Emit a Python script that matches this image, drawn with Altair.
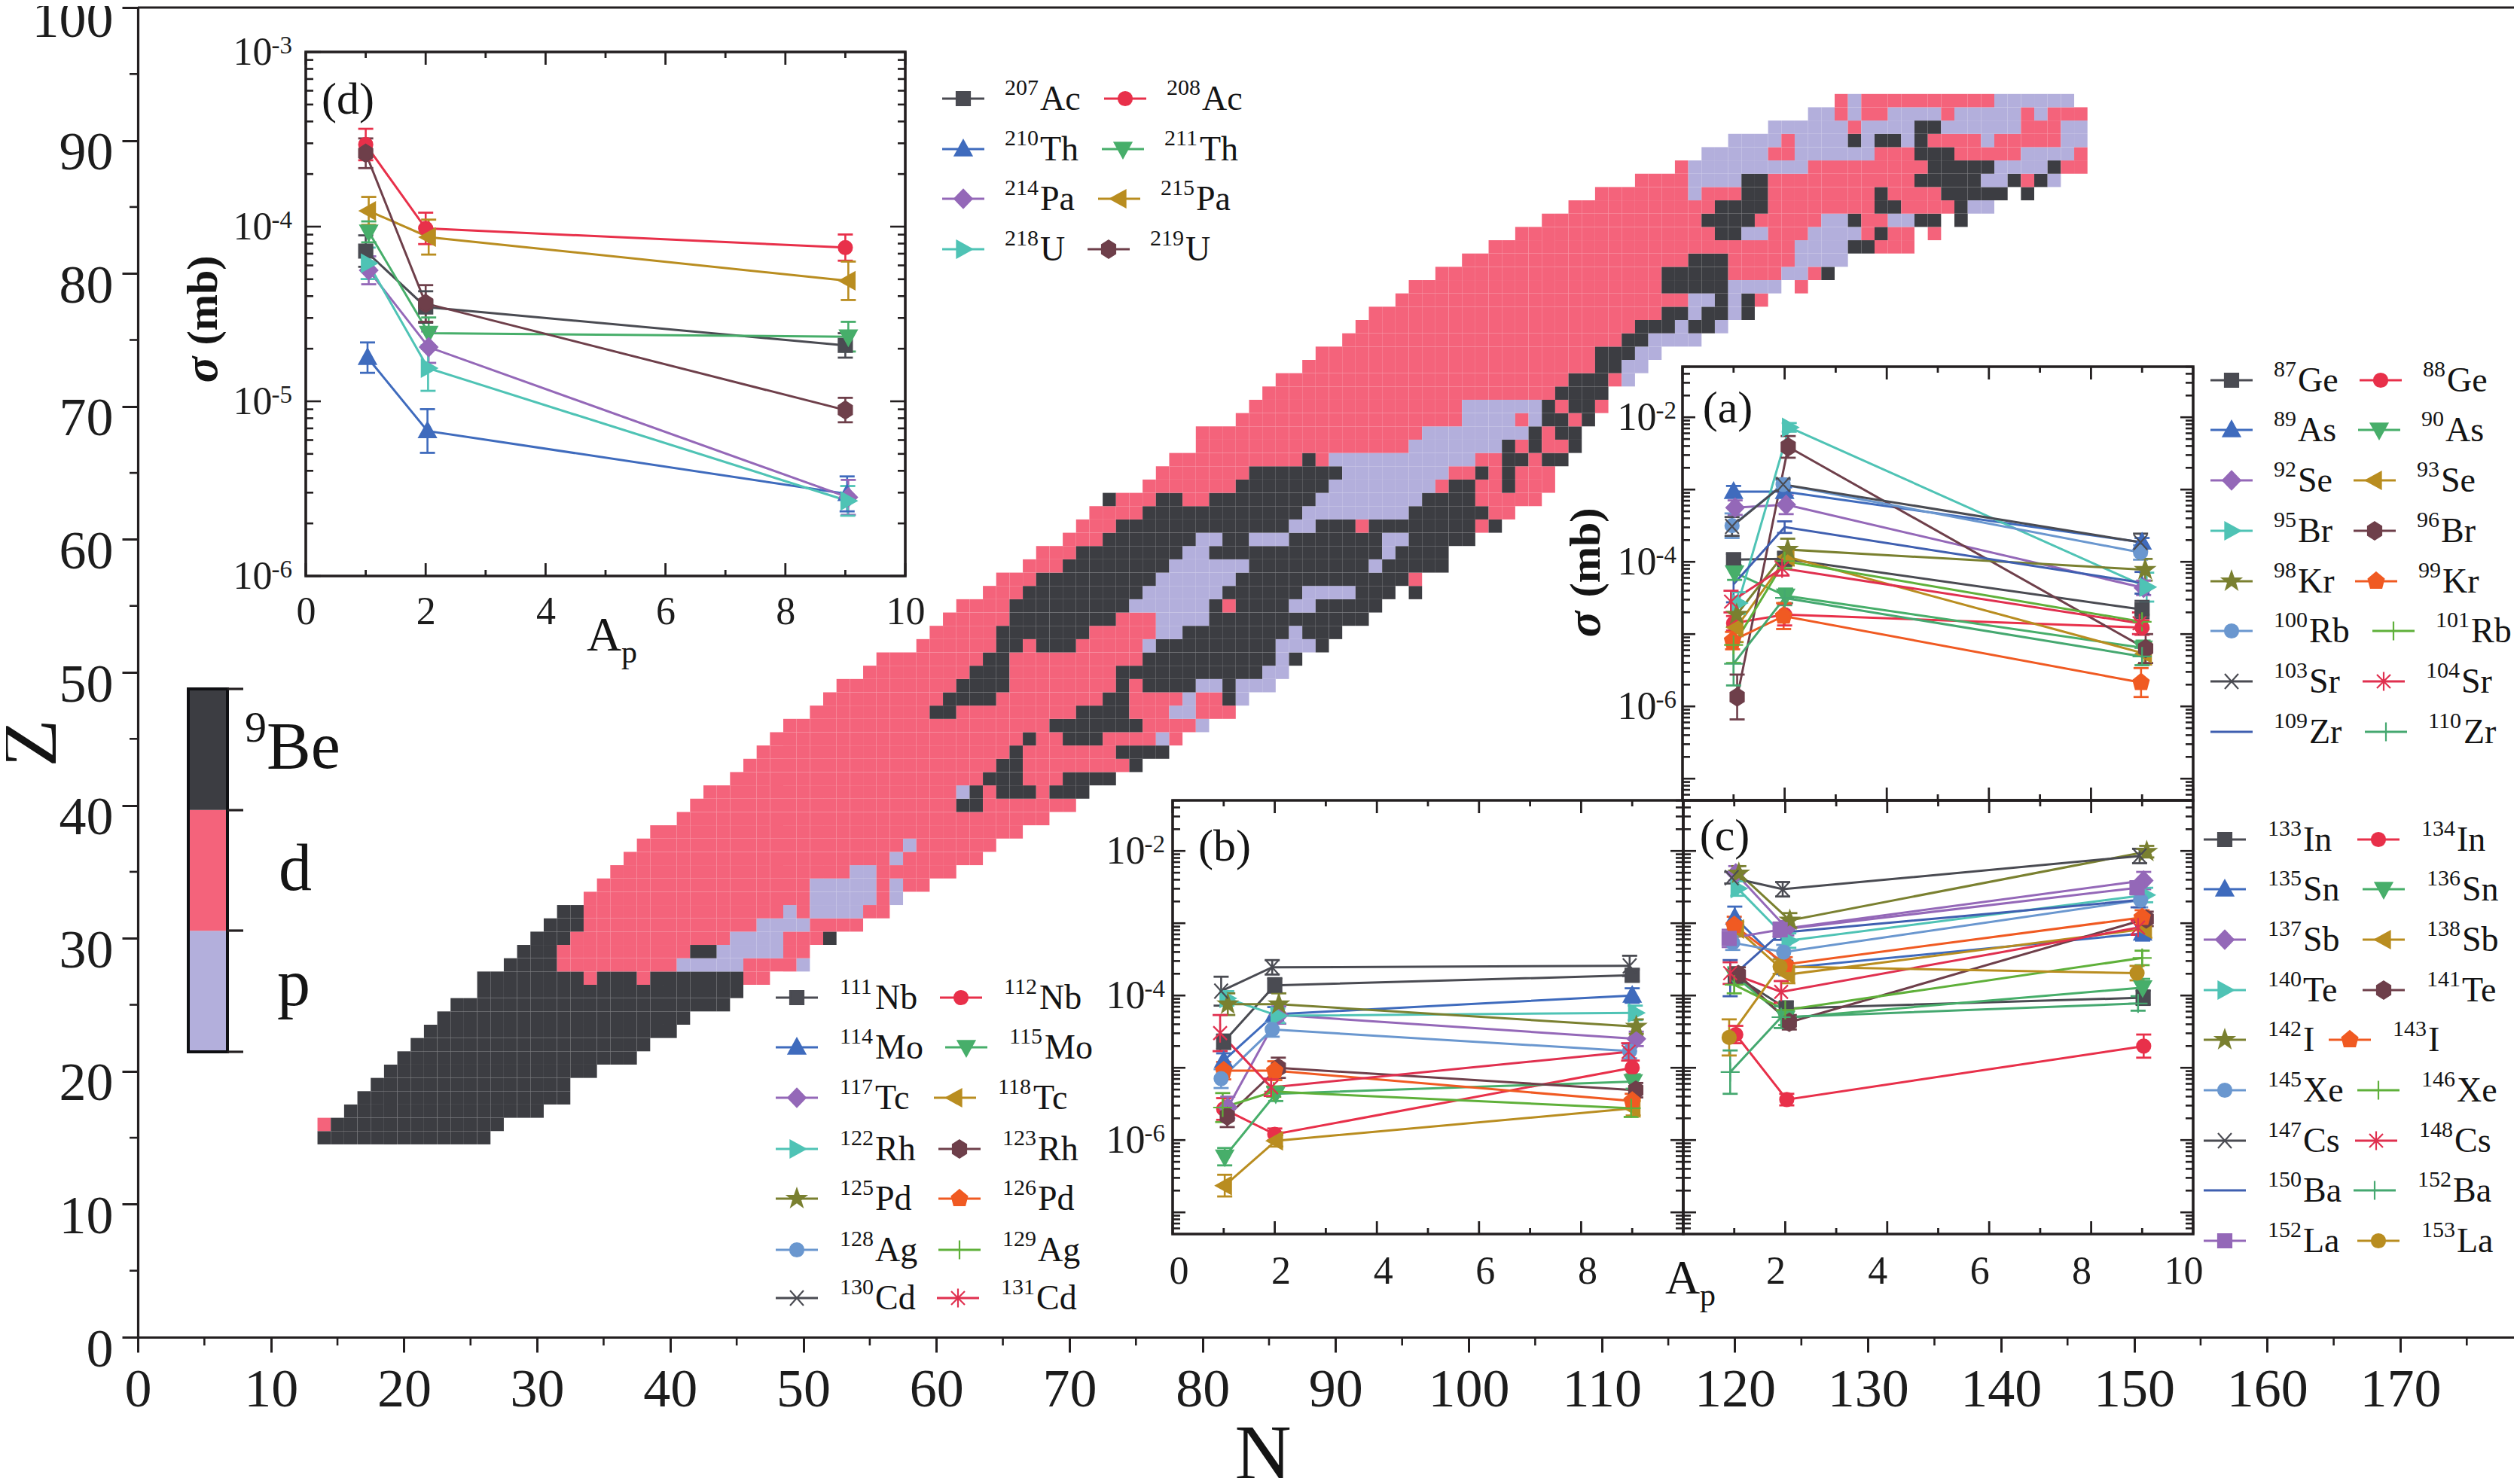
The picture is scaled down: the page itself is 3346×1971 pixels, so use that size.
import re
import altair as alt
import pandas as pd

W, H = 3330, 1955
FONT = "Liberation Serif"
INK = "#231f20"
CLASS = ["D", "P", "L"]
CLASS_COL = ["#3c3d42", "#f4637b", "#b3afdc"]

ROWS = {
15:"D14-26",16:"P14 D15-27",17:"D16-30",18:"D17-32",19:"D18-32",20:"D19-34",21:"D20-37",22:"D21-38",
23:"D22-40",24:"D23-41",25:"D24-44",26:"D26-45",
27:"D26-33 P34 D35-37 P38 D39-45 P46-47",
28:"D28-31 P32-40 L41-45 P46-49 L50",
29:"D29-31 P32-41 D42-43 L44-48 P49-50",
30:"D30-32 P33-44 L45-48 P49-51 D52",
31:"D31-33 P34-46 L47-50 P51-54",
32:"D32-33 P34-48 L49 P50 L51-54 P55-56",
33:"P34-50 L51-55 P56 L57",
34:"P35-50 L51-55 P56 L57 P58-59",
35:"P36-53 L54-55 P56-61",
36:"P37-56 L57 P58-63",
37:"P38-57 L58 P59-64",
38:"P39-66",
39:"P41-68",
40:"P42-61 D62-63 P64-70",
41:"P43-61 L62 D63 P64 D65-67 P68 D69-71",
42:"P45-63 D64-66 P67-69 D70-73",
43:"P46-64 D65-66 P67-74 D75",
44:"P47-65 D66 P67-73 D74-77",
45:"P48-66 D67 P68-69 D70-72 P73-76 L77 P78",
46:"P49-68 D69-75 P76-79 L80",
47:"P51-59 D60-61 P62-70 D71-74 P75-77 L78-79 P80-82",
48:"P52-60 D61-64 P65-72 D73-74 P75-78 L79 P80-81 D82 L83",
49:"P53-61 D62-65 P66-73 D74 P75 D76-79 L80-81 D82 L83-85",
50:"P55-62 D63-65 P66-73 D74-84 L85-86",
51:"P56-63 D64-65 P66-75 D76-85 L86 D87",
52:"P59-64 D65-66 P67 D68-70 P71-75 L76 D77-85 L86-88 D89",
53:"P60-64 D65-71 P72-76 L77-78 D79-86 L87 D88-90",
54:"P61-65 D66-73 P74-76 L77-80 D81-92",
55:"P62-65 D66-74 L75-80 D81 P82 D83-86 L87-88 D89-93",
56:"P64-66 D67-75 L76-81 D82-87 L88-91 D92-94 D96",
57:"P65-67 D68-76 L77-82 D83-95 P96",
58:"P67-69 D70-77 L78-83 D84-92 L93 D94-98",
59:"P68-70 D71-78 L79-80 D81-93 L94 D95-98",
60:"P70-72 D73-79 L80-81 D82-83 L84-86 D87-93 L94-95 D96-100",
61:"P71-73 D74-86 L87-88 D89-91 P92 D93-100 P101 D102",
62:"P72-75 D76-87 L88-95 D96-101 P102-103",
63:"D73 P74-76 D77-78 P79-80 D81-88 L89-96 D97-100 P101-105",
64:"P76-82 D83-89 L90-97 P98 D99-100 P101-102 D103 P104-106",
65:"P77-83 D84-90 L91-98 P99-100 D101 P102 D103 P104-106",
66:"P78-87 D88 P89 L90-100 P101-102 D103-104 P105 D106-107",
67:"P80-95 L96-102 D103 P104 D105 P106-107 D108",
68:"P80-96 L97-104 D105 P106 D107-108",
69:"P83-99 L100-103 P104 L105 D106-107 P108 D109",
70:"P84-99 L100-105 D106 P107 D108-109 P110",
71:"P85-106 D107-110",
72:"P86-107 D108-110 P111 L112",
73:"P88-109 D110-111 L112-113",
74:"P89-109 D110-112 L113-114",
75:"P91-111 D112-113 L114-117",
76:"P92-112 D113-115 L116 D117-118 L119",
77:"P93-114 D115-116 L117 D118-119 L120 D121",
78:"P95-116 L117-118 D119 L120 D121 P122",
79:"P96-114 D115-119 L120-123 P125",
80:"P98-114 D115-119 P120-123 L124-125 P126 D127",
81:"P100-116 D117-119 P120-124 L125-128",
82:"P102-124 L125-128 D129-130 P131-133",
83:"P104-118 D119-120 L121-122 P123-125 L126-129 P130 D131 P132-133 P135",
84:"P106-117 D118-121 P122-126 L127-128 D129 P130-131 L132-133 D134-135 D137",
85:"P108-118 D119-122 P123-130 D131-132 P133-136 D137 L138-139",
86:"P110-116 L117 P118-120 D121-122 P123-130 D131 P132-135 D136-140 D142",
87:"P113-116 L117-120 D121-122 P123-133 D134-138 L139-140 D141 P142 D143 L144",
88:"P116 L117-125 P126-134 D135-139 L140-143 D144 P145-146",
89:"L118-122 P123-124 L125-130 P131-133 D134-136 P137-141 L142-145 P146",
90:"L120-123 P124 L125-128 D129 L130 D131-132 L133 D134 P135-138 L139 P140-144 L145-146",
91:"L123-128 P129 L130-133 D134-135 L136-141 P142-144 L145-146",
92:"L126-127 P128 L129 P130-131 L132-135 P136 L137-141 P142 L143 P144-146",
93:"P128 L129 P130-139 L140-145",
}

COLORS = ["#4a4b52","#e8304a","#3f6bbd","#47ae6a","#9468b8","#b98d20","#4fc3b5","#6e3f4a","#7a8030",
          "#f05a22","#6a97cf","#5fb03a","#4a4b52","#e0304f","#3f5fb0","#45a870","#9468b8","#b98d20"]
CIRCLE = "M1,0A1,1,0,1,1,-1,0A1,1,0,1,1,1,0Z"
SHAPES = ["M-1,-1L1,-1L1,1L-1,1Z", CIRCLE, "M0,-1.3L1.25,0.95L-1.25,0.95Z", "M0,1.3L1.25,-0.95L-1.25,-0.95Z",
          "M0,-1.35L1.3,0L0,1.35L-1.3,0Z", "M-1.3,0L0.95,-1.25L0.95,1.25Z", "M1.3,0L-0.95,-1.25L-0.95,1.25Z",
          "M0,-1.3L1,-0.65L1,0.65L0,1.3L-1,0.65L-1,-0.65Z",
          "M0,-1.4L0.33,-0.45L1.33,-0.43L0.53,0.17L0.82,1.13L0,0.55L-0.82,1.13L-0.53,0.17L-1.33,-0.43L-0.33,-0.45Z",
          "M0,-1.3L1.15,-0.35L0.8,1L-0.8,1L-1.15,-0.35Z", CIRCLE, "M-1.4,0L1.4,0M0,-1.4L0,1.4",
          "M-1,-1.1L1,1.1M1,-1.1L-1,1.1", "M-1,-1L1,1M1,-1L-1,1M0,-1.4L0,1.4", "M0,0L0,0", "M-1.4,0L1.4,0M0,-1.4L0,1.4",
          "M-1,-1L1,-1L1,1L-1,1Z", CIRCLE]

# Cross sections: log10(sigma/mb) at Ap = 1, 2, 9 ; errors in dex ; small horizontal shift of each series
NAMES_D = ["207Ac","208Ac","210Th","211Th","214Pa","215Pa","218U","219U"]
LOG_D = [[-4.14,-4.46,-4.68],[-3.53,-4.01,-4.12],[-4.75,-5.17,-5.53],[-4.03,-4.61,-4.63],
         [-4.25,-4.69,-5.55],[-3.91,-4.06,-4.31],[-4.21,-4.81,-5.57],[-3.58,-4.44,-5.05]]
ERR_D = [[.09,.09,.07],[.09,.09,.075],[.087,.125,.1],[.06,.09,.085],[.08,.09,.1],[.08,.1,.11],[.09,.13,.085],[.085,.105,.07]]
DX_D = [0,0,.03,.05,.05,.05,.04,0]

NAMES_A = ["87Ge","88Ge","89As","90As","92Se","93Se","95Br","96Br","98Kr","99Kr","100Rb","101Rb","103Sr","104Sr","109Zr","110Zr"]
LOG_A = [[-3.97,-3.96,-4.66],[-4.85,-4.73,-4.91],[-3.03,-3.03,-3.73],[-4.15,-4.47,-5.19],[-3.25,-3.21,-4.36],
         [-4.91,-3.93,-5.27],[-4.57,-2.14,-4.35],[-5.87,-2.41,-5.20],[-4.73,-3.83,-4.11],[-5.09,-4.75,-5.67],
         [-3.50,-2.93,-3.87],[-5.15,-3.99,-4.83],[-3.51,-2.93,-3.73],[-4.55,-4.09,-4.85],[-4.31,-3.52,-4.29],[-5.41,-4.50,-5.31]]
ERR_A = [[.08,.1,.12],[.1,.15,.1],[.08,.06,.06],[.1,.1,.1],[.1,.13,.1],[.2,.12,.15],[.15,.06,.2],[.31,.15,.2],
         [.18,.15,.15],[.12,.18,.2],[.17,.06,.1],[.25,.1,.1],[.13,.08,.12],[.15,.1,.15],[.25,.08,.15],[.3,.1,.12]]
DX_A = [0,0,0,.02,.03,.05,.09,.07,.06,-.02,-.03,0,-.03,-.05,0,0]

NAMES_B = ["111Nb","112Nb","114Mo","115Mo","117Tc","118Tc","122Rh","123Rh","125Pd","126Pd","128Ag","129Ag","130Cd","131Cd"]
LOG_B = [[-4.64,-3.86,-3.72],[-5.57,-5.92,-5.00],[-4.90,-4.26,-4.00],[-6.23,-5.36,-5.19],[-5.55,-4.27,-4.60],
         [-6.63,-6.01,-5.56],[-4.04,-4.28,-4.24],[-5.67,-5.00,-5.31],[-4.12,-4.12,-4.43],[-5.04,-5.04,-5.46],
         [-5.15,-4.47,-4.77],[-5.55,-5.33,-5.56],[-3.94,-3.61,-3.59],[-4.52,-5.27,-4.78]]
ERR_B = [[.1,.1,.08],[.15,.08,.1],[.1,.1,.1],[.12,.1,.1],[.15,.12,.1],[.15,.08,.1],[.1,.1,.1],[.15,.14,.1],
         [.15,.15,.1],[.12,.13,.1],[.13,.1,.1],[.2,.07,.12],[.2,.1,.14],[.25,.12,.12]]
DX_B = [0,0,0,.02,.08,.02,.06,.07,.08,0,-.05,-.02,-.05,-.07]

NAMES_C = ["133In","134In","135Sn","136Sn","137Sb","138Sb","140Te","141Te","142I","143I","145Xe","146Xe","147Cs","148Cs","150Ba","152Ba","152La","153La"]
LOG_C = [[-3.73,-4.18,-4.03],[-4.54,-5.44,-4.70],[-2.92,-3.62,-3.14],[-3.73,-4.31,-3.89],[-2.31,-3.07,-2.41],
         [-3.08,-3.71,-3.08],[-2.52,-3.24,-2.61],[-3.71,-4.37,-2.94],[-2.31,-2.96,-2.01],[-3.03,-3.57,-2.92],
         [-3.27,-3.40,-2.68],[-3.85,-4.20,-3.48],[-2.37,-2.53,-2.07],[-3.69,-3.95,-3.06],[-3.76,-3.13,-2.68],
         [-5.06,-4.30,-4.11],[-3.21,-3.09,-2.51],[-4.58,-3.60,-3.69]]
ERR_C = [[.1,.1,.1],[.12,.08,.16],[.15,.1,.1],[.12,.1,.12],[.1,.1,.12],[.1,.12,.12],[.1,.1,.1],[.1,.1,.1],
         [.1,.1,.08],[.12,.1,.1],[.1,.1,.1],[.12,.1,.1],[.08,.1,.1],[.15,.15,.1],[.25,.1,.1],[.3,.15,.1],[.12,.1,.08],[.25,.1,.1]]
DX_C = [.02,.03,.01,.01,.03,.05,.07,.08,.09,0,-.03,0,-.05,-.08,-.08,-.08,-.1,-.1]
AP = [1, 2, 9]

PX = alt.Scale(domain=[0, W], range=[0, W], nice=False)
PY = alt.Scale(domain=[0, H], range=[0, H], nice=False)

def split(label):
    m = re.match(r"(\d+)(.*)", label)
    return m.group(1), m.group(2)

def one():
    return alt.Data(values=[{"a": 1}])

def txt(x, y, t, size, align="center", angle=0, baseline="alphabetic", weight="normal", style="normal"):
    return alt.Chart(pd.DataFrame({"t": [t]})).mark_text(
        font=FONT, fontSize=size, align=align, angle=angle, baseline=baseline, color="#141414",
        fontWeight=weight, fontStyle=style
    ).encode(x=alt.value(x - 8), y=alt.value(y - 8), text="t:N")

def rule_px(x0, x1, y0, y1, width=3.2):
    return alt.Chart(one()).mark_rule(color=INK, strokeWidth=width).encode(
        x=alt.value(x0 - 8), x2=alt.value(x1 - 8), y=alt.value(y0 - 8), y2=alt.value(y1 - 8))

layers = []

# ------------------ main chart -------------------------------------------------
cells = []
for z, spec in ROWS.items():
    for tok in spec.split():
        c = tok[0]
        parts = tok[1:].split("-")
        a, b = int(parts[0]), int(parts[-1])
        for n in range(a, b + 1):
            cells.append({"n0": n - .5, "n1": n + .5, "z0": z - .5, "z1": z + .5, "c": c})

MX0, MX1, MY0, MY1 = 183, 3346, 1776, 10
x_main = alt.Scale(domain=[0, 179], range=[MX0 - 8, MX1 - 8], nice=False, zero=False)
y_main = alt.Scale(domain=[0, 100], range=[MY0 - 8, MY1 - 8], nice=False, zero=False)
axx = alt.Axis(orient="bottom", offset=MY0 - 8 - H, values=list(range(0, 180, 10)), title=None, grid=False,
               domainColor=INK, domainWidth=3.2, tickColor=INK, tickWidth=3, tickSize=20, labelFont=FONT,
               labelFontSize=72, labelColor="#1c1c1c", labelPadding=14, labelFlush=False, labelOverlap=False)
axy = alt.Axis(orient="left", offset=-(MX0 - 8), values=list(range(0, 101, 10)), title=None, grid=False,
               domainColor=INK, domainWidth=3.2, tickColor=INK, tickWidth=3, tickSize=21, labelFont=FONT,
               labelFontSize=72, labelColor="#1c1c1c", labelPadding=12, labelOffset=16, labelFlush=False, labelOverlap=False)
layers.append(alt.Chart(pd.DataFrame(cells)).mark_rect(stroke=None).encode(
    x=alt.X("n0:Q", scale=x_main, axis=axx), x2="n1:Q",
    y=alt.Y("z0:Q", scale=y_main, axis=axy), y2="z1:Q",
    fill=alt.Fill("c:N", scale=alt.Scale(domain=CLASS, range=CLASS_COL), legend=None)))
layers.append(rule_px(MX0, MX1, MY1, MY1))

mt = pd.DataFrame({"v": list(range(5, 180, 10)), "y0": MY0 - 8, "y1": MY0 - 8 + 11})
layers.append(alt.Chart(mt).mark_rule(color=INK, strokeWidth=2.6).encode(
    x=alt.X("v:Q", scale=x_main, axis=None),
    y=alt.Y("y0:Q", scale=PY, axis=None), y2="y1:Q"))
mt = pd.DataFrame({"v": list(range(5, 100, 10)), "x0": MX0 - 8 - 11, "x1": MX0 - 8})
layers.append(alt.Chart(mt).mark_rule(color=INK, strokeWidth=2.6).encode(
    y=alt.Y("v:Q", scale=y_main, axis=None),
    x=alt.X("x0:Q", scale=PX, axis=None), x2="x1:Q"))
layers.append(txt(1677, 1964, "N", 104))
layers.append(txt(74, 987, "Z", 104, angle=270))

# colour bar
cb_y = alt.Scale(domain=[0, 3], range=[1397 - 8, 915 - 8], nice=False, zero=False)
cb_x = alt.Scale(domain=[0, 1], range=[250 - 8, 302 - 8], nice=False, zero=False)
layers.append(alt.Chart(pd.DataFrame({"a": [0, 1, 2], "b": [1, 2, 3], "c": ["L", "P", "D"], "l": 0, "r": 1})).mark_rect().encode(
    x=alt.X("l:Q", scale=cb_x, axis=None), x2="r:Q",
    y=alt.Y("a:Q", scale=cb_y, axis=None), y2="b:Q",
    fill=alt.Fill("c:N", scale=alt.Scale(domain=CLASS, range=CLASS_COL), legend=None)))
layers.append(alt.Chart(one()).mark_rect(fill=None, stroke="#0f1013", strokeWidth=4).encode(
    x=alt.value(250 - 8), x2=alt.value(302 - 8), y=alt.value(915 - 8), y2=alt.value(1397 - 8)))
for yy in [915, 1076, 1236, 1397]:
    layers.append(rule_px(302, 323, yy, yy, 3.2))
layers.append(txt(325, 985, "9", 58, align="left"))
layers.append(txt(354, 1020, "Be", 88, align="left"))
layers.append(txt(392, 1182, "d", 88))
layers.append(txt(390, 1335, "p", 88))

# ------------------ insets -----------------------------------------------------
def inset(names, logs, errs, dxs, box, dom, ylabels, ypad, xlabels, xoff, xpad, ylen=(17, 10)):
    left, right, top, bottom = box
    xs = alt.Scale(domain=[0, 10], range=[left - 8, right - 8], nice=False, zero=False)
    ys = alt.Scale(type="log", domain=dom, range=[bottom - 8, top - 8], nice=False, zero=False)
    out = []
    out.append(alt.Chart(one()).mark_rect(fill=None, stroke=INK, strokeWidth=3.6).encode(
        x=alt.value(left - 8), x2=alt.value(right - 8), y=alt.value(top - 8), y2=alt.value(bottom - 8)))
    tk = []
    for v in range(0, 11):
        ln = 17 if v % 2 == 0 else 8
        tk.append({"v": v, "y0": top - 8, "y1": top - 8 + ln})
        tk.append({"v": v, "y0": bottom - 8, "y1": bottom - 8 - ln})
    xaxis = None
    if xlabels:
        xaxis = alt.Axis(orient="bottom", offset=bottom - 8 - H, values=xlabels, title=None, grid=False, domain=False,
                         ticks=False, labelFont=FONT, labelFontSize=52, labelColor="#1c1c1c", labelPadding=xpad,
                         labelOffset=xoff, labelFlush=False, labelOverlap=False)
    out.append(alt.Chart(pd.DataFrame(tk)).mark_rule(color=INK, strokeWidth=2.8).encode(
        x=alt.X("v:Q", scale=xs, axis=xaxis), y=alt.Y("y0:Q", scale=PY, axis=None), y2="y1:Q"))
    tk = []
    for e in range(-8, 0):
        for m in range(1, 10):
            v = m * 10.0 ** e
            if dom[0] <= v <= dom[1]:
                ln = ylen[0] if m == 1 else ylen[1]
                tk.append({"v": v, "x0": left - 8, "x1": left - 8 + ln})
                tk.append({"v": v, "x0": right - 8, "x1": right - 8 - ln})
    yaxis = None
    if ylabels:
        yaxis = alt.Axis(orient="left", offset=-(left - 8), values=[l[0] for l in ylabels], title=None, grid=False, domain=False,
                         ticks=False, labelFont=FONT, labelFontSize=52, labelColor="#1c1c1c", labelPadding=ypad + 27,
                         labelExpr="'10'", labelFlush=False, labelOverlap=False)
    out.append(alt.Chart(pd.DataFrame(tk)).mark_rule(color=INK, strokeWidth=2.6).encode(
        y=alt.Y("v:Q", scale=ys, axis=yaxis), x=alt.X("x0:Q", scale=PX, axis=None), x2="x1:Q"))
    if ylabels:
        ex = pd.DataFrame({"v": [l[0] for l in ylabels], "t": [l[1] for l in ylabels], "xp": left - 8 - ypad})
        out.append(alt.Chart(ex).mark_text(font=FONT, fontSize=33, align="right", baseline="alphabetic", dy=2, color="#1c1c1c").encode(
            x=alt.X("xp:Q", scale=PX, axis=None), y=alt.Y("v:Q", scale=ys, axis=None), text="t:N"))
    rows = []
    for name, lg, er, dx in zip(names, logs, errs, dxs):
        for a, l, r in zip(AP, lg, er):
            rows.append({"x": a + dx, "name": name, "v": 10 ** l, "lo": 10 ** (l - r), "hi": 10 ** (l + r)})
    df = pd.DataFrame(rows)
    col = alt.Scale(domain=names, range=COLORS[:len(names)])
    X = alt.X("x:Q", scale=xs, axis=None)
    out.append(alt.Chart(df).mark_line(strokeWidth=3).encode(
        x=X, y=alt.Y("v:Q", scale=ys, axis=None), color=alt.Color("name:N", scale=col, legend=None)))
    out.append(alt.Chart(df).mark_rule(strokeWidth=2.6).encode(
        x=X, y=alt.Y("lo:Q", scale=ys, axis=None), y2="hi:Q", color=alt.Color("name:N", scale=col, legend=None)))
    for f in ["lo", "hi"]:
        out.append(alt.Chart(df).mark_tick(orient="horizontal", size=20, thickness=2.8, opacity=1).encode(
            x=X, y=alt.Y(f + ":Q", scale=ys, axis=None), color=alt.Color("name:N", scale=col, legend=None)))
    out.append(alt.Chart(df).mark_point(filled=True, size=324, strokeWidth=2.2, opacity=1).encode(
        x=X, y=alt.Y("v:Q", scale=ys, axis=None),
        fill=alt.Fill("name:N", scale=col, legend=None), stroke=alt.Stroke("name:N", scale=col, legend=None),
        shape=alt.Shape("name:N", scale=alt.Scale(domain=names, range=SHAPES[:len(names)]), legend=None)))
    return out

def legend(names, col1, col2, ys, dx_text=57):
    rows = []
    for i, name in enumerate(names):
        r, c = divmod(i, 2)
        sx = col1 if c == 0 else col2[r]
        mass, el = split(name)
        rows.append({"name": name, "mass": mass, "el": el, "sx": sx - 8, "x0": sx - 8 - 28, "x1": sx - 8 + 28,
                     "tx": sx - 8 + dx_text, "ex": sx - 8 + dx_text + 15 * len(mass) + 2, "y": ys[r] - 8})
    df = pd.DataFrame(rows)
    col = alt.Scale(domain=names, range=COLORS[:len(names)])
    Y = alt.Y("y:Q", scale=PY, axis=None)
    return [
        alt.Chart(df).mark_rule(strokeWidth=3).encode(
            x=alt.X("x0:Q", scale=PX, axis=None), x2="x1:Q", y=Y, color=alt.Color("name:N", scale=col, legend=None)),
        alt.Chart(df).mark_point(filled=True, size=324, strokeWidth=2.2, opacity=1).encode(
            x=alt.X("sx:Q", scale=PX, axis=None), y=Y,
            fill=alt.Fill("name:N", scale=col, legend=None), stroke=alt.Stroke("name:N", scale=col, legend=None),
            shape=alt.Shape("name:N", scale=alt.Scale(domain=names, range=SHAPES[:len(names)]), legend=None)),
        alt.Chart(df).mark_text(font=FONT, fontSize=30, align="left", baseline="alphabetic", dy=-5, color="#141414").encode(
            x=alt.X("tx:Q", scale=PX, axis=None), y=Y, text="mass:N"),
        alt.Chart(df).mark_text(font=FONT, fontSize=46, align="left", baseline="alphabetic", dy=15, color="#141414").encode(
            x=alt.X("ex:Q", scale=PX, axis=None), y=Y, text="el:N"),
    ]

DEC_D = [(1e-6, "-6"), (1e-5, "-5"), (1e-4, "-4"), (1e-3, "-3")]
DEC = [(1e-6, "-6"), (1e-4, "-4"), (1e-2, "-2")]
DOM = [10 ** -7.3, 10 ** -1.3]
layers += inset(NAMES_D, LOG_D, ERR_D, DX_D, (406, 1202, 69, 765), [1e-6, 1e-3], DEC_D, 18, [0, 2, 4, 6, 8, 10], 0, 22, ylen=(20, 10))
layers += inset(NAMES_A, LOG_A, ERR_A, DX_A, (2234, 2912, 487, 1063), DOM, DEC, 8, None, 0, 0)
layers += inset(NAMES_B, LOG_B, ERR_B, DX_B, (1557, 2235, 1063, 1639), DOM, DEC, 10, [0, 2, 4, 6, 8], 8, 24)
layers += inset(NAMES_C, LOG_C, ERR_C, DX_C, (2235, 2912, 1063, 1639), DOM, [], 10, [2, 4, 6, 8, 10], -13, 24)

layers += legend(NAMES_D, 1279, [1494, 1491, 1486, 1472], [131, 198, 264, 331], 55)
layers += legend(NAMES_A, 2963, [3161, 3159, 3153, 3153, 3155, 3178, 3165, 3168], [505, 571, 638, 705, 772, 838, 905, 972], 56)
layers += legend(NAMES_B, 1058, [1276, 1283, 1268, 1274, 1274, 1274, 1272], [1325, 1391, 1458, 1526, 1592, 1660, 1724], 57)
layers += legend(NAMES_C, 2954, [3158, 3165, 3165, 3165, 3120, 3158, 3155, 3153, 3158], [1115, 1181, 1248, 1315, 1381, 1448, 1515, 1581, 1648], 57)

layers.append(txt(462, 133, "(d)", 60, baseline="middle"))
layers.append(txt(2294, 543, "(a)", 60, baseline="middle"))
layers.append(txt(1626, 1125, "(b)", 60, baseline="middle"))
layers.append(txt(2290, 1111, "(c)", 60, baseline="middle"))
layers.append(txt(288, 399, "(mb)", 58, angle=270, weight="bold"))
layers.append(txt(288, 491, "σ", 64, angle=270, style="italic", weight="bold"))
layers.append(txt(2124, 734, "(mb)", 58, angle=270, weight="bold"))
layers.append(txt(2124, 829, "σ", 64, angle=270, style="italic", weight="bold"))
layers.append(txt(802, 864, "A", 64))
layers.append(txt(825, 880, "p", 42, align="left"))
layers.append(txt(2234, 1718, "A", 64))
layers.append(txt(2257, 1734, "p", 42, align="left"))

chart = alt.layer(*layers).resolve_scale(
    x="independent", y="independent", color="independent", fill="independent", stroke="independent", shape="independent"
).resolve_axis(x="independent", y="independent").properties(
    width=W, height=H, padding=0, autosize=alt.AutoSizeParams(type="none"), background="white"
).configure_view(stroke=None)

chart.save("out.html", embed_options={"renderer": "svg", "actions": False})
